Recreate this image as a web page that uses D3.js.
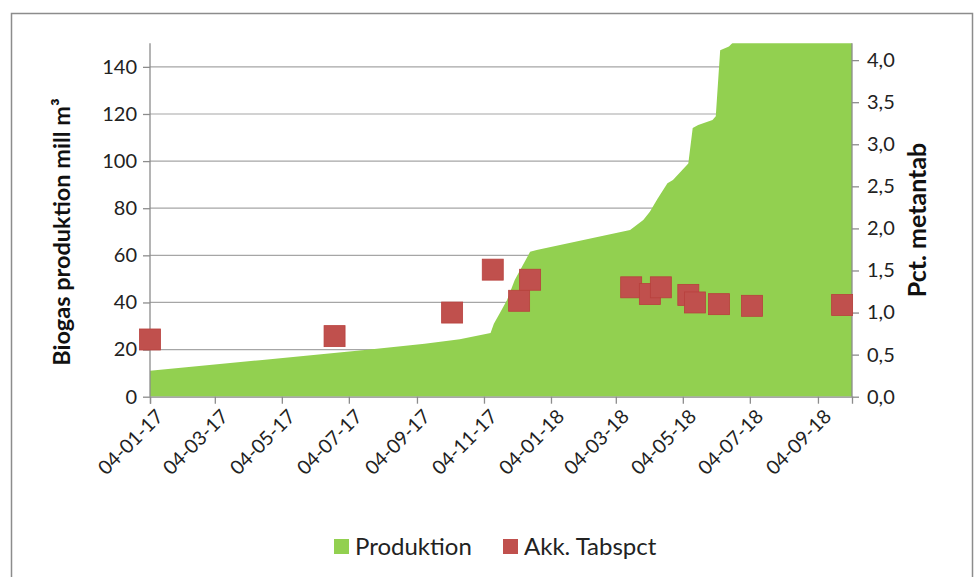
<!DOCTYPE html>
<html><head><meta charset="utf-8">
<script src="https://cdn.jsdelivr.net/npm/d3@7"></script>
<style>
body{margin:0;background:#fff;}
svg{display:block;font-family:Lato,"Open Sans",sans-serif;}
</style></head>
<body><svg id="c" width="977" height="577"></svg>
<script>
// Produktion (mill m3) – area, left axis
const prodDates = ["2017-01-04","2017-04-14","2017-07-23","2017-09-11","2017-10-13","2017-11-10","2017-11-13","2017-11-19","2017-11-25","2017-12-02","2017-12-16","2017-12-22","2018-03-17","2018-03-29","2018-04-04","2018-04-11","2018-04-20","2018-04-25","2018-05-09","2018-05-13","2018-05-18","2018-05-31","2018-06-03","2018-06-07","2018-06-15","2018-06-22","2018-10-05"];
const prodValues = [11,15.5,20,22.5,24.4,27,31,36,41,49.5,61.5,62.3,70.8,75,78.5,84,90.6,92,99,114,115.3,117.4,119,147,148.6,152,160];
// Akk. Tabspct (%) – markers, right axis
const tabDates = ["2017-01-04","2017-06-21","2017-10-06","2017-11-12","2017-12-06","2017-12-16","2018-03-18","2018-04-04","2018-04-14","2018-05-09","2018-05-15","2018-06-06","2018-07-06","2018-09-26"];
const tabValues = [0.68,0.72,1.00,1.51,1.14,1.39,1.30,1.22,1.30,1.21,1.12,1.10,1.08,1.09];
const xTicks = ["2017-01-04","2017-03-04","2017-05-04","2017-07-04","2017-09-04","2017-11-04","2018-01-04","2018-03-04","2018-05-04","2018-07-04","2018-09-04"];
const xDomain = ["2017-01-04","2018-10-05"];
const leftTicks = [0,20,40,60,80,100,120,140];
const rightTicks = [0,0.5,1,1.5,2,2.5,3,3.5,4];
const seriesNames = ["Produktion","Akk. Tabspct"];
const colors = ["#92D050","#C0504D"];

const parse = d3.utcParse("%Y-%m-%d");
const fmt = d3.utcFormat("%d-%m-%y");
const svg = d3.select("#c");
const L=150, R=852, T=43.3, B=396.7;
const FONT = "Lato,'Open Sans',sans-serif";

const x = d3.scaleUtc().domain(xDomain.map(parse)).range([L,R]);
const yL = d3.scaleLinear().domain([0,150]).range([B,T]);
const yR = d3.scaleLinear().domain([0,4.2]).range([B,T]);

// outer border
svg.append("rect").attr("x",11.5).attr("y",13.5).attr("width",961).attr("height",580)
  .attr("fill","none").attr("stroke","#8c8c8c").attr("stroke-width",1.5);

// gridlines
svg.append("g").selectAll("line").data(leftTicks.filter(d=>d>0)).join("line")
  .attr("x1",L).attr("x2",R).attr("y1",d=>yL(d)).attr("y2",d=>yL(d))
  .attr("stroke","#a6a6a6").attr("stroke-width",1.2);

// clip
svg.append("clipPath").attr("id","pc").append("rect").attr("x",L).attr("y",T).attr("width",R-L).attr("height",B-T);

const prod = prodDates.map((d,i)=>({d:parse(d),v:prodValues[i]}));
svg.append("path").datum(prod).attr("clip-path","url(#pc)")
  .attr("fill",colors[0])
  .attr("d",d3.area().x(d=>x(d.d)).y0(B).y1(d=>yL(d.v)));

// axes
const gL = svg.append("g").attr("transform",`translate(${L},0)`)
  .call(d3.axisLeft(yL).tickValues(leftTicks).tickSize(7).tickPadding(6).tickFormat(d3.format("d")));
const gR = svg.append("g").attr("transform",`translate(${R},0)`)
  .call(d3.axisRight(yR).tickValues(rightTicks).tickSize(7).tickPadding(8).tickFormat(d=>d3.format(".1f")(d).replace(".",",")));
const gX = svg.append("g").attr("transform",`translate(0,${B})`)
  .call(d3.axisBottom(x).tickValues(xTicks.map(parse)).tickSize(7).tickFormat(fmt));
[gL,gR,gX].forEach(g=>{
  g.select(".domain").attr("stroke","#8c8c8c").attr("stroke-width",1.3);
  g.selectAll(".tick line").attr("stroke","#8c8c8c").attr("stroke-width",1.3);
  g.selectAll("text").attr("font-size","20px").attr("fill","#222").attr("font-family",FONT);
});
gX.selectAll("text").attr("font-size","19.5px");
gL.select(".domain").attr("d",`M0,${B}V${T}`);
gR.select(".domain").attr("d",`M0,${B}V${T}`);
gX.selectAll(".tick text").attr("text-anchor","end").attr("dy",0)
  .attr("transform","translate(7,14) rotate(-45)");

// markers
const tab = tabDates.map((d,i)=>({d:parse(d),v:tabValues[i]}));
const ms=21;
svg.append("g").selectAll("rect").data(tab).join("rect")
  .attr("x",d=>x(d.d)-ms/2).attr("y",d=>yR(d.v)-ms/2).attr("width",ms).attr("height",ms)
  .attr("fill",colors[1]).attr("stroke","#b8403d").attr("stroke-width",0.8);

// axis titles
svg.append("text").attr("transform",`translate(70,232) rotate(-90)`)
  .attr("text-anchor","middle").attr("font-weight","bold").attr("font-size","23.5px").attr("fill","#111")
  .attr("font-family",FONT).text("Biogas produktion mill m³");
svg.append("text").attr("transform",`translate(926,220) rotate(-90)`)
  .attr("text-anchor","middle").attr("font-weight","bold").attr("font-size","25px").attr("fill","#111")
  .attr("font-family",FONT).text("Pct. metantab");

// legend
const lg = svg.append("g");
const lx=[334,503];
seriesNames.forEach((n,i)=>{
  lg.append("rect").attr("x",lx[i]).attr("y",539).attr("width",15).attr("height",15).attr("fill",colors[i]);
  lg.append("text").attr("x",lx[i]+21).attr("y",555).attr("font-size","24px").attr("fill","#222")
    .attr("font-family",FONT).text(n);
});
</script></body></html>
